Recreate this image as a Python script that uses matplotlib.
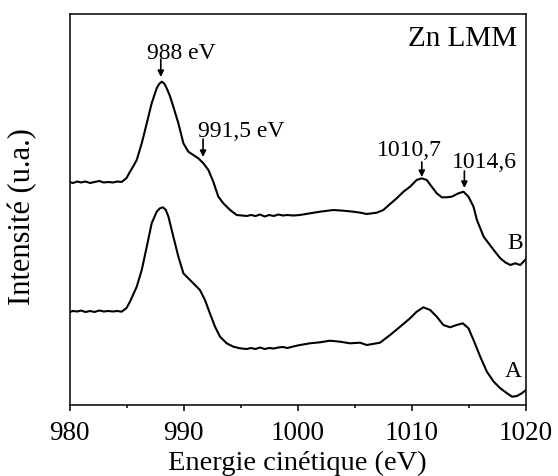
import matplotlib
matplotlib.use("Agg")
import matplotlib.pyplot as plt
from matplotlib.ticker import MultipleLocator

plt.rcParams['font.family'] = ['Liberation Serif', 'DejaVu Serif']

# Kinetic energy (eV) and intensity (arbitrary units)
energy_B = [980, 980.3, 980.7, 981, 981.4, 981.8, 982.2, 982.6, 983, 983.4,
            983.8, 984.2, 984.57, 985.0, 985.3, 985.6, 985.89, 986.33, 986.77,
            987.2, 987.64, 987.85, 988.08, 988.3, 988.52, 988.8, 989.1, 989.54,
            989.98, 990.41, 990.85, 991.29, 991.73, 992.17, 992.6, 993.04,
            993.48, 994.07, 994.65, 995.1, 995.53, 995.9, 996.3, 996.7, 997.1,
            997.5, 997.9, 998.3, 998.7, 999.1, 999.6, 1000.2, 1001.07, 1001.95,
            1003.12, 1004.0, 1004.87, 1005.5, 1006.04, 1006.92, 1007.5,
            1008.09, 1008.67, 1009.26, 1009.84, 1010.42, 1010.86, 1011.3,
            1011.74, 1012.18, 1012.62, 1013.05, 1013.49, 1014.08, 1014.52,
            1014.96, 1015.4, 1015.7, 1016.29, 1017.17, 1017.75, 1018.2,
            1018.63, 1019.07, 1019.5, 1020]
intensity_B = [223, 222, 223.5, 222.5, 223.5, 222, 223, 224, 222.5, 223,
               222.5, 223.5, 223, 227, 233.3, 239, 245, 261.7, 281.7,
               301.7, 316.7, 321, 323.3, 321.5, 316.7, 309, 298.3, 281.7,
               261.7, 253.3, 250, 246.7, 241.7, 235, 223.3, 208.3,
               201.7, 195, 190, 189.5, 189, 190, 189, 190.5, 188.5,
               190, 189, 190.5, 189.5, 190, 189.5, 190, 191.7, 193.3,
               195, 194.3, 193.3, 192.3, 191, 192.3, 195,
               201, 206.7, 213.3, 218.3, 225, 226.7, 225,
               218.3, 211.7, 207.7, 207.7, 208.3, 211.7, 213.3,
               208.3, 198.3, 185, 168.3, 155, 146.7, 142.5,
               140, 141.7, 140, 146]

energy_A = [980, 980.3, 980.7, 981, 981.4, 981.8, 982.2, 982.6, 983, 983.4,
            983.8, 984.2, 984.57, 985.0, 985.3, 985.89, 986.33, 986.77, 987.2,
            987.64, 987.9, 988.17, 988.42, 988.67, 989.1, 989.54, 989.98,
            990.41, 990.85, 991.43, 991.87, 992.3, 992.75, 993.19, 993.77,
            994.36, 994.94, 995.53, 995.9, 996.3, 996.7, 997.1, 997.5, 997.9,
            998.3, 998.7, 999.1, 999.6, 1000.2, 1001.07, 1001.95, 1002.8,
            1003.7, 1004.58, 1005.46, 1006.04, 1007.21, 1008.09, 1008.97,
            1009.84, 1010.42, 1011.01, 1011.6, 1012.18, 1012.76, 1013.35,
            1013.93, 1014.46, 1014.96, 1015.4, 1015.99, 1016.57, 1017.17,
            1017.75, 1018.34, 1018.78, 1019.2, 1019.63, 1020]
intensity_A = [93, 94, 93.5, 94.5, 93, 94, 93, 94.5, 93.5, 94,
               93.5, 94, 93.3, 97, 103.3, 118.3, 135, 158.3, 181.7,
               193.3, 196.5, 197.7, 195.5, 188.3, 168.3, 148.3, 131.7,
               126.7, 121.7, 115, 105, 91.7, 78.3, 68.3, 61.7,
               58.3, 56.7, 56, 57, 56, 57.5, 56, 57, 56.5,
               57.5, 58, 57, 58.5, 60, 61.7, 62.7, 64.3,
               63.3, 61.7, 62.3, 60, 62.3, 70, 78.3,
               86.7, 93.3, 97.7, 95, 88.3, 80, 77.7,
               80, 81.7, 76.7, 65, 48.3, 33.3, 23.3,
               16.7, 11.7, 8.3, 9, 11.7, 15]

fig = plt.figure(figsize=(5.58, 4.76), dpi=100)
ax = fig.add_axes([69.5 / 558, (476 - 405) / 476, (526 - 69.5) / 558, (405 - 14) / 476])

ax.plot(energy_B, intensity_B, color='black', lw=1.5)
ax.plot(energy_A, intensity_A, color='black', lw=1.5)

ax.set_xlim(980, 1020)
ax.set_ylim(0, 391)
ax.xaxis.set_major_locator(MultipleLocator(10))
ax.xaxis.set_minor_locator(MultipleLocator(5))
ax.tick_params(axis='x', which='major', direction='out', length=4, width=1.1,
               labelsize=19.5, pad=7.5, top=False)
ax.tick_params(axis='x', which='minor', direction='out', length=2.5, width=1.1, top=False)
ax.set_yticks([])
for s in ax.spines.values():
    s.set_linewidth(1.1)

ax.set_xlabel('Energie cinétique (eV)', fontsize=20.5)
ax.xaxis.set_label_coords(0.5, -0.1164)
ax.set_ylabel('Intensité (u.a.)', fontsize=22)
ax.yaxis.set_label_coords(-0.071, 0.481)

arrow_kw = dict(arrowstyle='-|>', lw=1.2, color='black', mutation_scale=9,
                shrinkA=0, shrinkB=0)
annotations = [
    ('988 eV', 986.79, 346, 988.0, 346, 328),
    ('991,5 eV', 991.24, 268, 991.7, 266, 248),
    ('1010,7', 1006.95, 249, 1010.87, 243, 228),
    ('1014,6', 1013.5, 236.7, 1014.6, 234, 217),
]
for label, tx, ty, axx, tail, tip in annotations:
    ax.text(tx, ty, label, fontsize=17, ha='left', va='baseline')
    ax.annotate('', xy=(axx, tip), xytext=(axx, tail), arrowprops=arrow_kw)

ax.text(1019.22, 359.3, 'Zn LMM', fontsize=21, ha='right', va='baseline')
ax.text(1019.05, 155.7, 'B', fontsize=17, ha='center', va='baseline')
ax.text(1018.87, 28.3, 'A', fontsize=17, ha='center', va='baseline')

fig.savefig('out.png', dpi=100)
